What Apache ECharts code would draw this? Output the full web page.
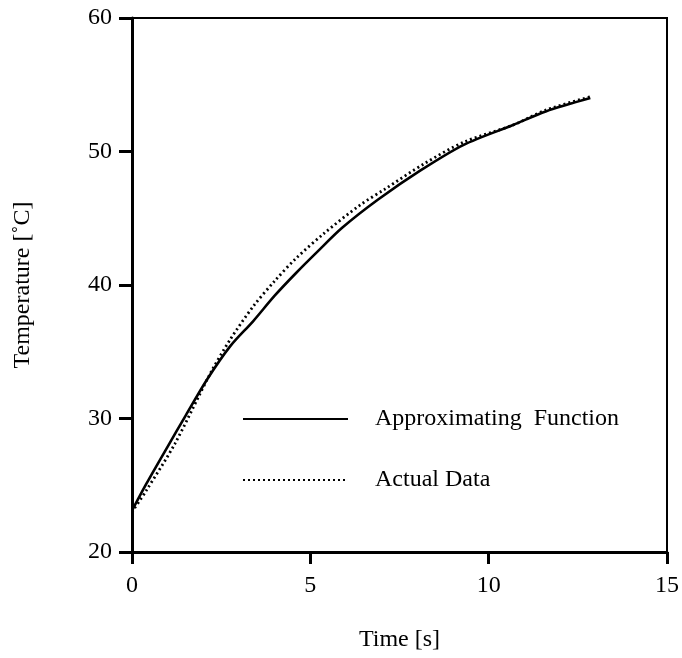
<!DOCTYPE html>
<html>
<head>
<meta charset="utf-8">
<script src="https://cdn.jsdelivr.net/npm/echarts@6/dist/echarts.min.js"></script>
<style>
  html, body { margin: 0; padding: 0; background: #fff; }
  #chart { width: 682px; height: 658px; }
</style>
</head>
<body>
<div id="chart"></div>
<script>
// values
const approxTime = [0, 0.4, 1.0, 1.5, 2.1, 2.75, 3.4, 4.0, 4.6, 5.2, 5.9, 6.9, 8.1, 9.3, 10.7, 11.6, 12.85];
const approxTemp = [23.1, 25.1, 27.9, 30.2, 32.9, 35.4, 37.3, 39.2, 40.9, 42.5, 44.3, 46.4, 48.6, 50.5, 52.0, 53.0, 54.0];

const actualTime = [0, 0.4, 1.2, 2.2, 2.75, 3.4, 4.0, 4.6, 5.4, 6.4, 7.1, 8.2, 9.3, 10.7, 11.6, 12.85];
const actualTemp = [23.0, 24.6, 28.1, 33.4, 35.9, 38.4, 40.3, 42.0, 43.9, 46.0, 47.2, 49.1, 50.7, 52.0, 53.1, 54.1];

const seriesNames = ["Approximating  Function", "Actual Data"];

const font = "Liberation Serif";
const pairs = (xs, ys) => xs.map((x, i) => [x, ys[i]]);

const myChart = echarts.init(document.getElementById("chart"));

const option = {
  animation: false,
  backgroundColor: "#fff",
  grid: {
    left: 132,
    right: 14,
    top: 18,
    bottom: 106,
    show: true,
    borderColor: "#000",
    borderWidth: 2,
  },
  legend: {
    orient: "vertical",
    left: 237,
    top: 402,
    itemWidth: 105,
    itemHeight: 20,
    itemGap: 37,
    itemStyle: { opacity: 0 },
    textStyle: {
      fontFamily: font,
      fontSize: 24,
      color: "#000",
      padding: [0, 0, 0, 22],
    },
    data: seriesNames,
  },
  xAxis: {
    type: "value",
    min: 0,
    max: 15,
    interval: 5,
    name: "Time [s]",
    nameLocation: "middle",
    nameGap: 76,
    nameTextStyle: { fontFamily: font, fontSize: 24, color: "#000" },
    axisLine: { onZero: false, lineStyle: { color: "#000", width: 3 } },
    axisTick: { length: 12, lineStyle: { color: "#000", width: 3 } },
    axisLabel: { fontFamily: font, fontSize: 24, color: "#000", margin: 22 },
    splitLine: { show: false },
  },
  yAxis: {
    type: "value",
    min: 20,
    max: 60,
    interval: 10,
    name: "Temperature [˚C]",
    nameLocation: "middle",
    nameGap: 97,
    nameTextStyle: { fontFamily: font, fontSize: 24, color: "#000" },
    axisLine: { onZero: false, lineStyle: { color: "#000", width: 3 } },
    axisTick: { length: 13, lineStyle: { color: "#000", width: 3 } },
    axisLabel: { fontFamily: font, fontSize: 24, color: "#000", margin: 20 },
    splitLine: { show: false },
  },
  series: [
    {
      name: seriesNames[0],
      type: "line",
      symbol: "none",
      smooth: 0.3,
      data: pairs(approxTime, approxTemp),
      lineStyle: { color: "#000", width: 2.6, type: "solid" },
      itemStyle: { color: "#000" },
    },
    {
      name: seriesNames[1],
      type: "line",
      symbol: "none",
      smooth: 0.3,
      data: pairs(actualTime, actualTemp),
      lineStyle: { color: "#000", width: 2.8, type: [2, 3] },
      itemStyle: { color: "#000" },
    },
  ],
};

myChart.setOption(option);
</script>
</body>
</html>
